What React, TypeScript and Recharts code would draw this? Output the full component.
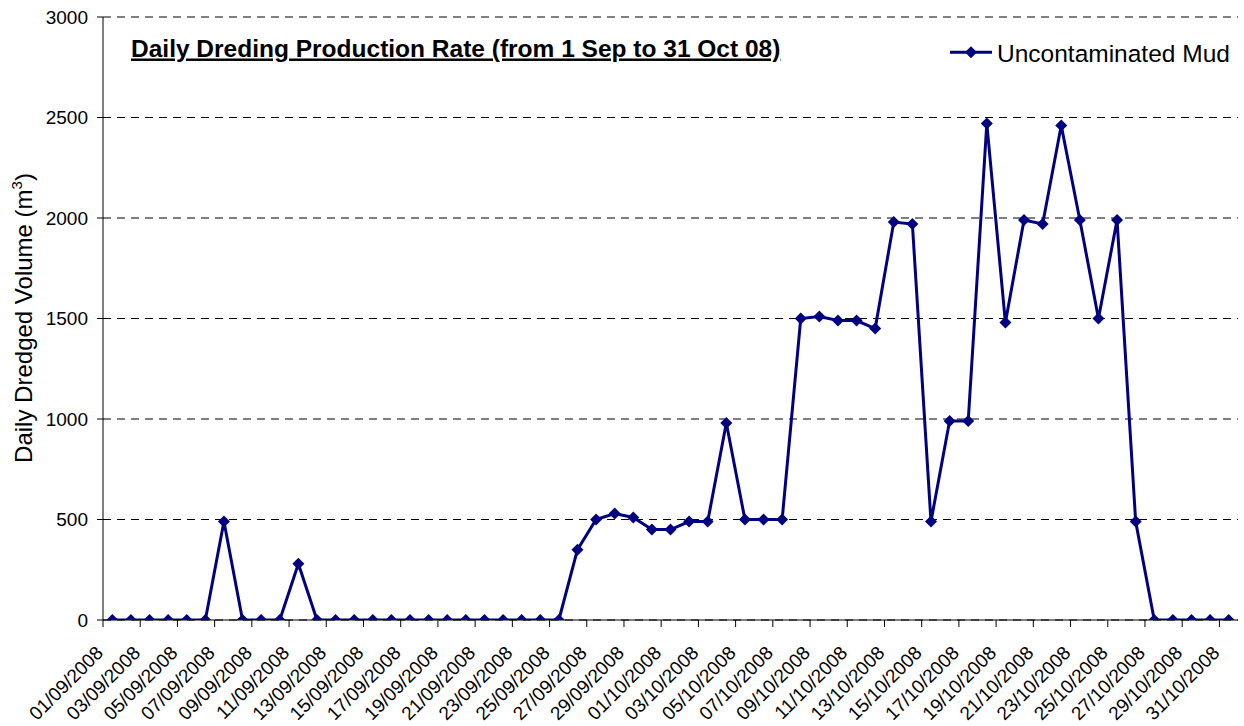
import React from "react";
import { LineChart, Line, XAxis, YAxis, CartesianGrid, Legend } from "recharts";

const dates: string[] = [
  "01/09/2008", "02/09/2008", "03/09/2008", "04/09/2008", "05/09/2008", "06/09/2008", "07/09/2008", "08/09/2008",
  "09/09/2008", "10/09/2008", "11/09/2008", "12/09/2008", "13/09/2008", "14/09/2008", "15/09/2008", "16/09/2008",
  "17/09/2008", "18/09/2008", "19/09/2008", "20/09/2008", "21/09/2008", "22/09/2008", "23/09/2008", "24/09/2008",
  "25/09/2008", "26/09/2008", "27/09/2008", "28/09/2008", "29/09/2008", "30/09/2008",
  "01/10/2008", "02/10/2008", "03/10/2008", "04/10/2008", "05/10/2008", "06/10/2008", "07/10/2008", "08/10/2008",
  "09/10/2008", "10/10/2008", "11/10/2008", "12/10/2008", "13/10/2008", "14/10/2008", "15/10/2008", "16/10/2008",
  "17/10/2008", "18/10/2008", "19/10/2008", "20/10/2008", "21/10/2008", "22/10/2008", "23/10/2008", "24/10/2008",
  "25/10/2008", "26/10/2008", "27/10/2008", "28/10/2008", "29/10/2008", "30/10/2008", "31/10/2008",
];

const uncontaminatedMud: number[] = [
  0, 0, 0, 0, 0, 0, 490, 0,
  0, 0, 280, 0, 0, 0, 0, 0,
  0, 0, 0, 0, 0, 0, 0, 0,
  0, 350, 500, 530, 510, 450,
  450, 490, 490, 980, 500, 500, 500, 1500,
  1510, 1490, 1490, 1450, 1980, 1970, 490, 990,
  990, 2470, 1480, 1990, 1970, 2460, 1990, 1500,
  1990, 490, 0, 0, 0, 0, 0,
];

const yTicks: number[] = [0, 500, 1000, 1500, 2000, 2500, 3000];

const seriesName = "Uncontaminated Mud";
const chartTitle = "Daily Dreding Production Rate (from 1 Sep to 31 Oct 08)";

const data = dates.map((d, i) => ({ idx: i, date: d, value: uncontaminatedMud[i] }));

// label ticks on every other date, tick marks at category boundaries every 2 categories
const xTicks: number[] = [];
dates.forEach((_, i) => {
  if (i % 2 === 0) {
    xTicks.push(i - 0.5);
    xTicks.push(i);
  }
});

const NAVY = "#000080";

const Diamond = (props: any) => {
  const { cx, cy } = props;
  if (cx == null || cy == null) return <g />;
  const s = 6;
  return (
    <polygon
      points={`${cx},${cy - s} ${cx + s},${cy} ${cx},${cy + s} ${cx - s},${cy}`}
      fill={NAVY}
      stroke="none"
    />
  );
};

const XTick = (props: any) => {
  const { x, y, payload } = props;
  const v = payload.value as number;
  if (Number.isInteger(v)) {
    const bx = x - 8;
    const by = y + 34;
    return (
      <text
        x={bx}
        y={by}
        textAnchor="end"
        fontSize={19}
        fill="#000"
        transform={`rotate(-45 ${bx} ${by})`}
      >
        {dates[v]}
      </text>
    );
  }
  return <line x1={x} x2={x} y1={y} y2={y + 7} stroke="#000" strokeWidth={1} />;
};

const LegendContent = () => (
  <svg width={304} height={40} style={{ display: "block" }}>
    <line x1={10} y1={22.3} x2={52} y2={22.3} stroke={NAVY} strokeWidth={3} />
    <polygon points={`31,16.3 37,22.3 31,28.3 25,22.3`} fill={NAVY} />
    <text x={57} y={31.7} fontSize={24.5} fill="#000">
      {seriesName}
    </text>
  </svg>
);

export default function App() {
  return (
    <div
      style={{
        position: "absolute",
        left: 0,
        top: 0,
        width: 1244,
        height: 726,
        fontFamily: "'Liberation Sans', Arial, sans-serif",
        background: "#fff",
      }}
    >
      <LineChart
        width={1244}
        height={726}
        data={data}
        margin={{ top: 17, right: 6, left: 0, bottom: 0 }}
      >
        <CartesianGrid
          vertical={false}
          horizontal={true}
          stroke="#000"
          strokeDasharray="8 6"
        />
        <XAxis
          dataKey="idx"
          type="number"
          domain={[-0.5, 60.5]}
          ticks={xTicks}
          interval={0}
          height={106}
          tickSize={0}
          tickMargin={0}
          tickLine={false}
          axisLine={{ stroke: "#000" }}
          tick={<XTick />}
          allowDataOverflow
        />
        <YAxis
          type="number"
          domain={[0, 3000]}
          ticks={yTicks}
          interval={0}
          width={103}
          tickSize={6}
          tickMargin={9}
          axisLine={{ stroke: "#000" }}
          tickLine={{ stroke: "#000" }}
          tick={{ fontSize: 19, fill: "#000" }}
          allowDataOverflow
        />
        <Legend
          layout="vertical"
          verticalAlign="middle"
          align="center"
          content={<LegendContent />}
          wrapperStyle={{ left: 940, top: 30, width: 304, height: 40 }}
        />
        <Line
          type="linear"
          dataKey="value"
          name={seriesName}
          stroke={NAVY}
          strokeWidth={3}
          dot={<Diamond />}
          activeDot={false}
          isAnimationActive={false}
        />
      </LineChart>
      <svg
        width={1244}
        height={726}
        style={{ position: "absolute", left: 0, top: 0, pointerEvents: "none" }}
      >
        <text
          x={131}
          y={56.5}
          fontSize={24.5}
          fontWeight="bold"
          fill="#000"
          textDecoration="underline"
        >
          {chartTitle}
        </text>
        <text
          transform="translate(32,318) rotate(-90)"
          textAnchor="middle"
          fontSize={24}
          fill="#000"
        >
          Daily Dredged Volume (m
          <tspan dy={-10} fontSize={15}>3</tspan>
          <tspan dy={10}>)</tspan>
        </text>
      </svg>
    </div>
  );
}
